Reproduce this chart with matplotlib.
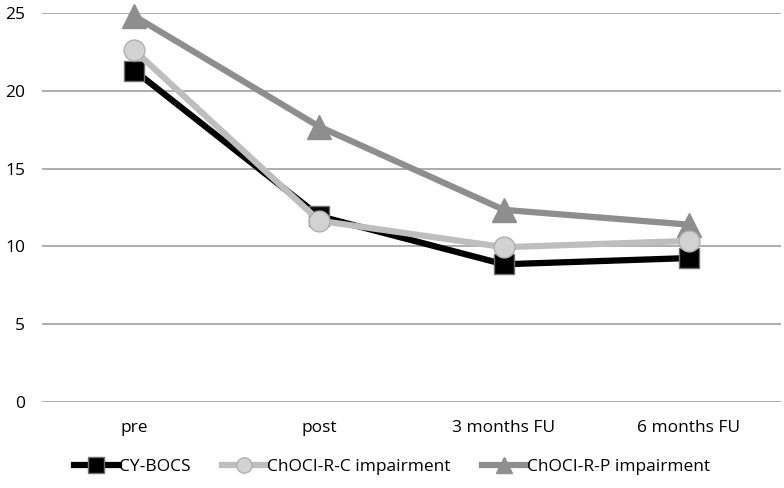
import matplotlib
matplotlib.use("Agg")
import matplotlib.pyplot as plt
from matplotlib.lines import Line2D

categories = ["pre", "post", "3 months FU", "6 months FU"]
cybocs = [21.3, 11.95, 8.85, 9.25]
chocirc = [22.6, 11.65, 9.95, 10.35]
chocirp = [24.8, 17.7, 12.35, 11.4]
yticks = [0, 5, 10, 15, 20, 25]

plt.rcParams['font.family'] = ['Open Sans', 'DejaVu Sans']

fig = plt.figure(figsize=(7.84, 4.88), dpi=100)
ax = fig.add_axes([42/784, (488-402)/488, (781-42)/784, (402-13)/488])

x = list(range(len(categories)))
ax.plot(x, cybocs, color="black", lw=4.5, marker="s", ms=15, mfc="black", mec="#707070", mew=1, clip_on=False, zorder=3, label="CY-BOCS")
ax.plot(x, chocirc, color="#BEBEBE", lw=4.5, marker="o", ms=15, mfc="#D2D2D2", mec="#B0B0B0", mew=1, clip_on=False, zorder=4, label="ChOCI-R-C impairment")
ax.plot(x, chocirp, color="#8E8E8E", lw=4.5, marker="^", ms=17, mfc="#8E8E8E", mec="#8E8E8E", mew=1, clip_on=False, zorder=2, label="ChOCI-R-P impairment")

ax.set_xlim(-0.5, 3.5)
ax.set_ylim(0, 25)
ax.set_yticks(yticks)
ax.set_xticks(x)
ax.set_xticklabels(categories)
ax.yaxis.grid(True, color="#A0A0A0", lw=1.2)
ax.set_axisbelow(True)
for s in ax.spines.values():
    s.set_visible(False)
ax.tick_params(axis="both", length=0, labelsize=12.5, colors="black")
ax.tick_params(axis="x", pad=13)
ax.tick_params(axis="y", pad=12)

handles = [
    Line2D([], [], color="black", lw=4.5, marker="s", ms=11, mfc="black", mec="#707070"),
    Line2D([], [], color="#BEBEBE", lw=4.5, marker="o", ms=11, mfc="#D2D2D2", mec="#B0B0B0"),
    Line2D([], [], color="#8E8E8E", lw=4.5, marker="^", ms=11, mfc="#8E8E8E", mec="#8E8E8E"),
]
fig.legend(handles, ["CY-BOCS", "ChOCI-R-C impairment", "ChOCI-R-P impairment"],
           loc="center", bbox_to_anchor=(0.5, 1 - 467/488), ncol=3, frameon=False,
           fontsize=12.5, handlelength=2.6, handletextpad=0.0, columnspacing=1.8)

fig.savefig("out.png", dpi=100)
